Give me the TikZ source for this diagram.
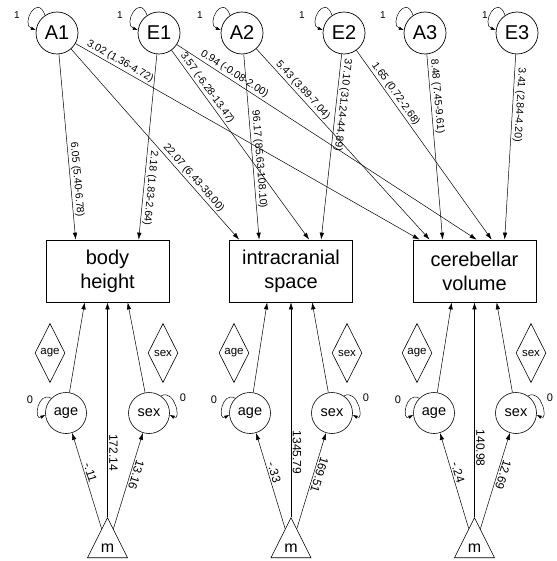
\documentclass[tikz,border=0pt]{standalone}
\usepackage{fontspec}
\setmainfont{Liberation Sans}
\usetikzlibrary{shapes.geometric,arrows.meta,calc}
\begin{document}
\begin{tikzpicture}[x=1pt,y=1pt,
  lat/.style={circle,draw,line width=0.7pt,minimum size=42pt,inner sep=0pt,font=\fontsize{20}{24}\selectfont},
  obs/.style={rectangle,draw,line width=0.7pt,minimum width=123pt,minimum height=62pt,inner sep=0pt,align=center,font=\fontsize{20}{24}\selectfont},
  cov/.style={circle,draw,line width=0.6pt,minimum size=41pt,inner sep=0pt,font=\fontsize{14.5}{16}\selectfont},
  dia/.style={diamond,draw,line width=0.6pt,aspect=0.5,minimum width=30pt,minimum height=59pt,inner sep=0pt,font=\fontsize{11.5}{13}\selectfont},
  tri/.style={isosceles triangle,isosceles triangle stretches,shape border rotate=90,draw,line width=0.6pt,minimum width=40pt,minimum height=40pt,inner sep=0pt,font=\fontsize{16}{18}\selectfont},
  conn/.style={line width=0.5pt,-{Latex[length=7pt,width=4.5pt]}},
  connr/.style={line width=0.5pt,{Latex[length=7pt,width=4.5pt]}-},
  selfl/.style={line width=0.5pt,-{Latex[length=5pt,width=3.5pt]}},
  lp/.style={font=\fontsize{10.5}{12}\selectfont,sloped,allow upside down,above,inner sep=1.5pt},
  blp/.style={font=\fontsize{12}{14}\selectfont,sloped,allow upside down,above,inner sep=1.5pt},
  onel/.style={font=\fontsize{10}{12}\selectfont,inner sep=0pt},
  zerol/.style={font=\fontsize{11}{13}\selectfont,inner sep=0pt}]
\useasboundingbox (0,0) rectangle (556,-561);

% latent factors
\node[lat] (A1) at (57,-33) {A1};
\node[lat] (E1) at (159,-33) {E1};
\node[lat] (A2) at (242,-33) {A2};
\node[lat] (E2) at (344,-33) {E2};
\node[lat] (A3) at (425,-33) {A3};
\node[lat] (E3) at (517,-33) {E3};

% self loops with variance 1
\foreach \n/\lx in {A1/17,E1/120,A2/200,E2/302,A3/383,E3/485}{
  \draw[selfl] (\n.124) .. controls +(110:24) and +(160:16) .. (\n.172);
  \node[onel] (one\n) at (\lx,-15) {1};
}

% observed measures
\node[obs] (bh) at (107.5,-271) {body\\height};
\node[obs] (ic) at (291,-271) {intracranial\\space};
\node[obs] (cv) at (474.5,-271) {cerebellar\\volume};

% arrow targets on the boxes
\coordinate (bhA1) at ($(bh.north west)+(30,0)$);
\coordinate (bhE1) at ($(bh.north west)+(93,0)$);
\coordinate (icA1) at ($(ic.north west)+(10,0)$);
\coordinate (icA2) at ($(ic.north west)+(30,0)$);
\coordinate (icE1) at ($(ic.north west)+(80,0)$);
\coordinate (icE2) at ($(ic.north west)+(92,0)$);
\coordinate (cvA1) at ($(cv.north west)+(7,0)$);
\coordinate (cvA2) at ($(cv.north west)+(17,0)$);
\coordinate (cvA3) at ($(cv.north west)+(30,0)$);
\coordinate (cvE1) at ($(cv.north west)+(64,0)$);
\coordinate (cvE2) at ($(cv.north west)+(79,0)$);
\coordinate (cvE3) at ($(cv.north west)+(92,0)$);

% paths from latent factors
\draw[conn] (A1) -- node[lp,pos=.68] {6.05 (5.40-6.78)} (bhA1);
\draw[conn] (E1) -- node[lp,pos=.72] {2.18 (1.83-2.64)} (bhE1);
\draw[conn] (A1) -- node[lp,pos=.70] {22.07 (6.43-38.00)} (icA1);
\draw[conn] (A1) -- node[lp,pos=.12] {3.02 (1.36-4.72)} (cvA1);
\draw[conn] (E1) -- node[lp,pos=.22] {3.57 (-6.28-13.47)} (icE1);
\draw[conn] (E1) -- node[lp,pos=.18] {0.94 (-0.08-2.00)} (cvE1);
\draw[conn] (A2) -- node[lp,pos=.57] {96.17 (85.63-108.10)} (icA2);
\draw[conn] (A2) -- node[lp,pos=.24] {5.43 (3.89-7.04)} (cvA2);
\draw[conn] (E2) -- node[lp,pos=.27] {37.10 (31.24-44.89)} (icE2);
\draw[conn] (E2) -- node[lp,pos=.25] {1.65 (0.72-2.68)} (cvE2);
\draw[conn] (A3) -- node[lp,pos=.23] {8.48 (7.45-9.61)} (cvA3);
\draw[conn] (E3) -- node[lp,pos=.27] {3.41 (2.84-4.20)} (cvE3);

% definition variables (diamonds)
\node[dia] (dage1) at (50,-353) {age};
\node[dia] (dsex1) at (163,-353) {sex};
\node[dia] (dage2) at (234,-353) {age};
\node[dia] (dsex2) at (347,-353) {sex};
\node[dia] (dage3) at (417,-353) {age};
\node[dia] (dsex3) at (531,-353) {sex};

% covariates
\node[cov] (age1) at (66,-413) {age};
\node[cov] (sex1) at (149,-413) {sex};
\node[cov] (age2) at (250,-413) {age};
\node[cov] (sex2) at (332,-413) {sex};
\node[cov] (age3) at (434,-413) {age};
\node[cov] (sex3) at (516,-413) {sex};

\foreach \n in {age1,age2,age3}{
  \draw[selfl] (\n.135) .. controls +(150:16) and +(210:14) .. (\n.185);
  \node[zerol] (zero\n) at ($(\n)+(-36,13)$) {0};
}
\foreach \n in {sex1,sex2,sex3}{
  \draw[selfl] (\n.55) .. controls +(30:16) and +(-30:14) .. (\n.-5);
  \node[zerol] (zero\n) at ($(\n)+(34,15)$) {0};
}

% means
\node[tri,anchor=apex] (m1) at (107.5,-517) {m};
\node[tri,anchor=apex] (m2) at (291,-517) {m};
\node[tri,anchor=apex] (m3) at (474.5,-517) {m};

% covariate targets on the boxes
\coordinate (bhage) at ($(bh.south west)+(39,0)$);
\coordinate (bhsex) at ($(bh.south west)+(82,0)$);
\coordinate (icage) at ($(ic.south west)+(38,0)$);
\coordinate (icsex) at ($(ic.south west)+(83,0)$);
\coordinate (cvage) at ($(cv.south west)+(39,0)$);
\coordinate (cvsex) at ($(cv.south west)+(84,0)$);

\draw[conn] (age1) -- (bhage);
\draw[conn] (sex1) -- (bhsex);
\draw[conn] (age2) -- (icage);
\draw[conn] (sex2) -- (icsex);
\draw[conn] (age3) -- (cvage);
\draw[conn] (sex3) -- (cvsex);

\draw[connr] (bh.south) -- node[blp,pos=.70] {172.14} (m1.apex);
\draw[connr] (age1) -- node[blp,pos=.43] {-.11} (m1);
\draw[connr] (sex1) -- node[blp,pos=.42] {13.16} (m1);
\draw[connr] (ic.south) -- node[blp,pos=.70] {1345.79} (m2.apex);
\draw[connr] (age2) -- node[blp,pos=.43] {-.33} (m2);
\draw[connr] (sex2) -- node[blp,pos=.42] {169.51} (m2);
\draw[connr] (cv.south) -- node[blp,pos=.68] {140.98} (m3.apex);
\draw[connr] (age3) -- node[blp,pos=.43] {-.24} (m3);
\draw[connr] (sex3) -- node[blp,pos=.42] {12.69} (m3);
\end{tikzpicture}
\end{document}
